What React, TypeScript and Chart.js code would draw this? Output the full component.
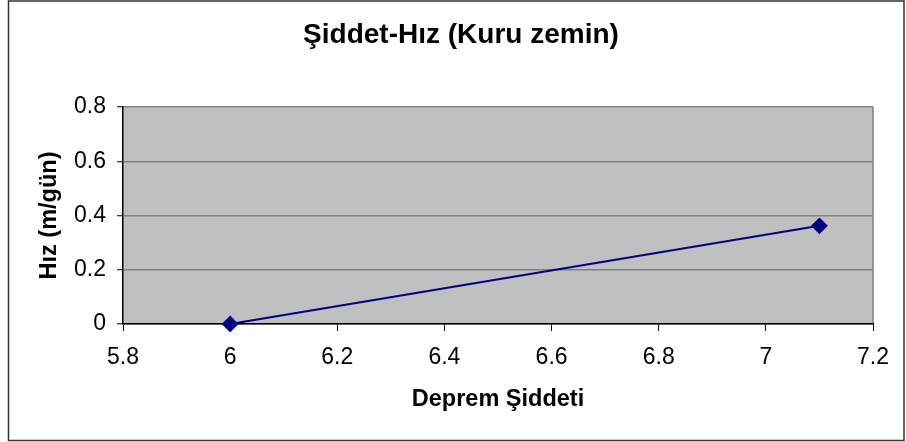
import React, { useEffect, useRef } from "react";
import { Chart, registerables } from "chart.js";

Chart.register(...registerables);

const titleText = "Şiddet-Hız (Kuru zemin)";
const xTitle = "Deprem Şiddeti";
const yTitle = "Hız (m/gün)";
const xValues = [6, 7.1];
const yValues = [0, 0.362];
const xTicks = [5.8, 6, 6.2, 6.4, 6.6, 6.8, 7, 7.2];
const yTicks = [0, 0.2, 0.4, 0.6, 0.8];

const FONT = "'Liberation Sans', Arial, sans-serif";

const framePlugin = {
  id: "frame",
  beforeDraw(chart: any) {
    const { ctx, chartArea } = chart;
    ctx.save();
    ctx.fillStyle = "#ffffff";
    ctx.fillRect(0, 0, chart.width, chart.height);
    ctx.strokeStyle = "#333333";
    ctx.lineWidth = 1.5;
    ctx.strokeRect(8.5, 1, 895.5, 439.5);
    ctx.fillStyle = "#C0C0C0";
    ctx.fillRect(chartArea.left, chartArea.top, chartArea.right - chartArea.left, chartArea.bottom - chartArea.top);
    ctx.strokeStyle = "#808080";
    ctx.lineWidth = 1.5;
    ctx.beginPath();
    ctx.moveTo(chartArea.right, chartArea.top);
    ctx.lineTo(chartArea.right, chartArea.bottom);
    ctx.stroke();
    ctx.fillStyle = "#000000";
    ctx.font = `bold 28px ${FONT}`;
    ctx.textAlign = "center";
    ctx.textBaseline = "alphabetic";
    ctx.fillText(titleText, 461, 43);
    ctx.restore();
  },
};

export default function App() {
  const ref = useRef<HTMLCanvasElement | null>(null);
  useEffect(() => {
    document.body.style.margin = "0";
    const canvas = ref.current!;
    const chart = new Chart(canvas, {
      type: "scatter",
      data: {
        datasets: [
          {
            data: xValues.map((x, i) => ({ x, y: yValues[i] })),
            showLine: true,
            borderColor: "#000080",
            backgroundColor: "#000080",
            borderWidth: 2,
            pointStyle: "rectRot",
            pointRadius: 7,
            pointHoverRadius: 7,
            clip: false,
          } as any,
        ],
      },
      options: {
        animation: false,
        responsive: false,
        maintainAspectRatio: false,
        events: [],
        layout: { padding: { top: 107, right: 33, bottom: 0, left: 0 } },
        plugins: { legend: { display: false }, tooltip: { enabled: false }, title: { display: false } },
        scales: {
          x: {
            type: "linear",
            min: xTicks[0],
            max: xTicks[xTicks.length - 1],
            afterBuildTicks: (s: any) => {
              s.ticks = xTicks.map((v) => ({ value: v }));
            },
            afterFit: (s: any) => {
              s.height = 118;
            },
            ticks: {
              color: "#000",
              font: { family: FONT, size: 23 },
              padding: 13,
              maxRotation: 0,
              autoSkip: false,
              callback: (v: any) => String(Number(Number(v).toFixed(1))),
            },
            grid: { drawOnChartArea: false, tickLength: 7, tickColor: "#000", tickWidth: 1 },
            border: { color: "#000", width: 1.5 },
            title: {
              display: true,
              text: xTitle,
              color: "#000",
              font: { family: FONT, size: 23.5, weight: "bold" },
              padding: { top: 0, bottom: 28 },
            },
          },
          y: {
            type: "linear",
            min: yTicks[0],
            max: yTicks[yTicks.length - 1],
            afterBuildTicks: (s: any) => {
              s.ticks = yTicks.map((v) => ({ value: v }));
            },
            afterFit: (s: any) => {
              s.width = 123;
            },
            ticks: {
              color: "#000",
              font: { family: FONT, size: 23 },
              padding: 11,
              autoSkip: false,
              callback: (v: any) => String(Number(Number(v).toFixed(1))),
            },
            grid: { color: "#808080", lineWidth: 1.5, tickLength: 6, tickColor: "#000", tickWidth: 1 },
            border: { color: "#000", width: 1.5 },
            title: {
              display: true,
              text: yTitle,
              color: "#000",
              font: { family: FONT, size: 23.5, weight: "bold" },
              padding: { top: 35, bottom: 0 },
            },
          },
        },
      },
      plugins: [framePlugin],
    });
    return () => chart.destroy();
  }, []);
  return <canvas ref={ref} width={906} height={442} style={{ display: "block" }} />;
}
